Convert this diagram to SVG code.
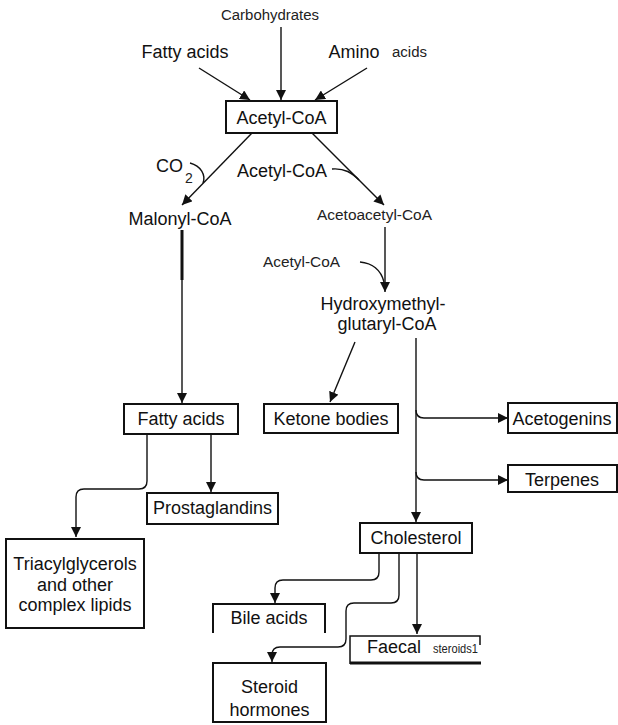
<svg xmlns="http://www.w3.org/2000/svg" width="618" height="725" viewBox="0 0 618 725">
<style>
.box{fill:#fff;stroke:#111;stroke-width:2}
.lbl{font-family:"Liberation Sans",Arial,sans-serif;font-size:18px;fill:#111;text-anchor:middle}
.lbs{font-family:"Liberation Sans",Arial,sans-serif;font-size:18px;fill:#111;text-anchor:start}
.sm{font-family:"Liberation Sans",Arial,sans-serif;font-size:14px;fill:#222}
.c{fill:none;stroke:#111;stroke-width:1.4}
</style>
<defs>
<marker id="ah" viewBox="0 0 10 10" refX="10" refY="5" markerWidth="10" markerHeight="10" markerUnits="userSpaceOnUse" orient="auto">
<path d="M0,0 L10,5 L0,10 z" fill="#111"/>
</marker>
</defs>
<rect width="618" height="725" fill="#fff"/>
<g id="connectors">
<path class="c" d="M281,27 L281,100" marker-end="url(#ah)"/>
<path class="c" d="M199,68 L250,100" marker-end="url(#ah)"/>
<path class="c" d="M367,68 L315,100" marker-end="url(#ah)"/>
<path class="c" d="M252,133 L182,205" marker-end="url(#ah)"/>
<path class="c" d="M312,133 L384,205" marker-end="url(#ah)"/>
<path class="c" d="M190,163 C201,166 206,175 203,183"/>
<path class="c" d="M332,169 C345,168 352,173 359,180"/>
<path fill="none" stroke="#111" stroke-width="3" d="M182,230 L182,280"/>
<path class="c" d="M182,280 L182,403" marker-end="url(#ah)"/>
<path class="c" d="M385,227 L385,292" marker-end="url(#ah)"/>
<path class="c" d="M360,262 C372,263 381,270 384,282"/>
<path class="c" d="M355,342 L330,402" marker-end="url(#ah)"/>
<path class="c" d="M416,338 L416,522" marker-end="url(#ah)"/>
<path class="c" d="M416,410 Q416,418 424,418 L508,418" marker-end="url(#ah)"/>
<path class="c" d="M416,472 Q416,480 424,480 L508,480" marker-end="url(#ah)"/>
<path class="c" d="M147,434 L147,481 Q147,489 139,489 L84,489 Q76,489 76,497 L76,537" marker-end="url(#ah)"/>
<path class="c" d="M211,434 L211,492" marker-end="url(#ah)"/>
<path class="c" d="M379,553 L379,572 Q379,580 371,580 L283,580 Q275,580 275,588 L275,603" marker-end="url(#ah)"/>
<path class="c" d="M399,553 L399,595 Q399,603 391,603 L354,603 Q346,603 346,611 L346,639 Q346,647 338,647 L280,647 Q272,647 272,655 L272,662" marker-end="url(#ah)"/>
<path class="c" d="M417,553 L417,634" marker-end="url(#ah)"/>
</g>
<g id="carbohydrates"><text class="sm" x="221" y="20" textLength="98" lengthAdjust="spacingAndGlyphs">Carbohydrates</text></g>
<g id="fatty-acids-top"><text class="lbl" x="185" y="58">Fatty acids</text></g>
<g id="amino-acids"><text class="lbl" x="354" y="58">Amino</text><text class="sm" x="392" y="57" textLength="35" lengthAdjust="spacingAndGlyphs">acids</text></g>
<g id="acetyl-coa"><rect class="box" x="226" y="101" width="111" height="32"/><text class="lbl" x="281.5" y="124">Acetyl-CoA</text></g>
<g id="co2"><text class="lbs" x="156" y="172">CO</text><text class="sm" x="185" y="183">2</text></g>
<g id="acetyl-coa-2"><text class="lbl" x="282" y="177">Acetyl-CoA</text></g>
<g id="malonyl-coa"><text class="lbl" x="180" y="225">Malonyl-CoA</text></g>
<g id="acetoacetyl-coa"><text class="sm" x="317" y="220" textLength="115" lengthAdjust="spacingAndGlyphs">Acetoacetyl-CoA</text></g>
<g id="acetyl-coa-3"><text class="sm" x="263" y="267" textLength="77" lengthAdjust="spacingAndGlyphs">Acetyl-CoA</text></g>
<g id="hmg-coa"><text class="lbl" x="383" y="310">Hydroxymethyl-</text><text class="lbl" x="387" y="330">glutaryl-CoA</text></g>
<g id="fatty-acids"><rect class="box" x="124" y="404" width="114" height="30"/><text class="lbl" x="181" y="425">Fatty acids</text></g>
<g id="ketone-bodies"><rect class="box" x="264" y="404" width="134" height="29"/><text class="lbl" x="331" y="425">Ketone bodies</text></g>
<g id="acetogenins"><rect class="box" x="508" y="403" width="109" height="30"/><text class="lbl" x="562" y="425">Acetogenins</text></g>
<g id="terpenes"><rect class="box" x="508" y="465" width="109" height="27"/><text class="lbl" x="562" y="486">Terpenes</text></g>
<g id="prostaglandins"><rect class="box" x="147" y="493" width="131" height="31"/><text class="lbl" x="212.5" y="514">Prostaglandins</text></g>
<g id="triacylglycerols"><rect class="box" x="6" y="539" width="138" height="89"/><text class="lbl" x="75" y="570">Triacylglycerols</text><text class="lbl" x="75" y="591">and other</text><text class="lbl" x="75" y="611">complex lipids</text></g>
<g id="cholesterol"><rect class="box" x="360" y="523" width="112" height="30"/><text class="lbl" x="416" y="544">Cholesterol</text></g>
<g id="bile-acids"><path fill="none" stroke="#111" stroke-width="2" d="M213,633 L213,604 L325,604 L325,633"/><text class="lbl" x="269" y="624">Bile acids</text></g>
<g id="faecal-steroids"><path fill="#fff" stroke="#111" stroke-width="1.5" d="M350,664 L350,636 L480,636 L480,645"/><path stroke="#111" stroke-width="3" d="M350,663 L481,663"/><text class="lbs" x="367" y="653">Faecal</text><text class="sm" x="433" y="653" style="font-size:12px" textLength="45" lengthAdjust="spacingAndGlyphs">steroids1</text></g>
<g id="steroid-hormones"><rect class="box" x="213" y="663" width="113" height="59"/><text class="lbl" x="269.5" y="693">Steroid</text><text class="lbl" x="269.5" y="716">hormones</text></g>
</svg>
